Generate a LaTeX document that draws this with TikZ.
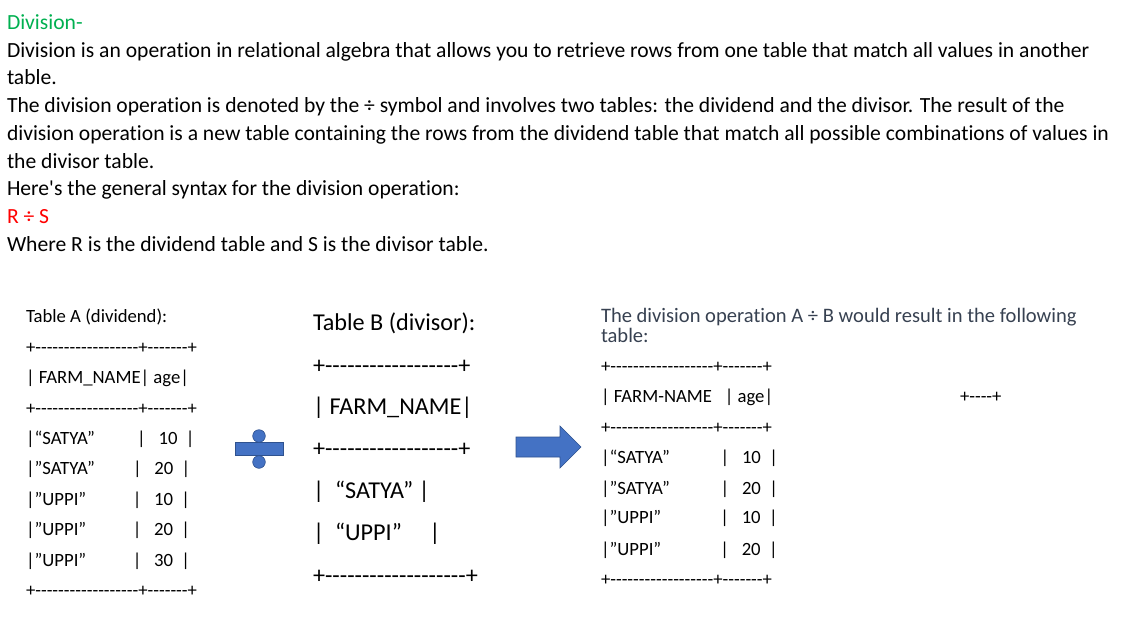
\documentclass[tikz,border=0pt]{standalone}
\usepackage{fontspec}
\setmainfont[Ligatures={TeXOff,NoCommon}]{Carlito}
\usetikzlibrary{positioning}
\definecolor{headColor}{RGB}{0,176,80}
\definecolor{syntaxColor}{RGB}{255,0,0}
\definecolor{slateColor}{RGB}{55,65,81}
\definecolor{shapeColor}{RGB}{68,114,196}
\definecolor{shapeEdge}{RGB}{47,82,143}
\tikzstyle{page} = [x = 1pt, y = -1pt]
\tikzstyle{lineText} = [anchor = base west, inner sep = 0, outer sep = 0, text = black]
\tikzstyle{bodyText} = [lineText, font=\fontsize{21.6}{25}\selectfont]
\tikzstyle{smallText} = [lineText, font=\fontsize{18.7}{22}\selectfont]
\tikzstyle{largeText} = [lineText, font=\fontsize{24.2}{28}\selectfont]
\tikzstyle{slateText} = [lineText, text = slateColor, font=\fontsize{20.56}{24}\selectfont]
\tikzstyle{blueShape} = [fill = shapeColor, draw = shapeEdge, line width = .6pt]
\newcommand{\textLine}[5]{\node [#1] (#2) at (#3, #4) {#5};}
\begin{document}
\begin{tikzpicture}[page]
  \useasboundingbox (0,0) rectangle (1143,640);

  \textLine{bodyText, text = headColor}{title}{7}{29}{Division-}
  \textLine{bodyText}{introOne}{7}{57}{Division is an operation in relational algebra that allows you to retrieve rows from one table that match all values in another}
  \textLine{bodyText}{introTwo}{7}{84}{table.}
  \textLine{bodyText}{introThree}{7}{112}{The division operation is denoted by the ÷ symbol and involves two tables: the dividend and the divisor. The result of the}
  \textLine{bodyText}{introFour}{7}{140}{division operation is a new table containing the rows from the dividend table that match all possible combinations of values in}
  \textLine{bodyText}{introFive}{7}{168}{the divisor table.}
  \textLine{bodyText}{introSix}{7}{195}{Here's the general syntax for the division operation:}
  \textLine{bodyText, text = syntaxColor}{syntax}{7}{223}{R ÷ S}
  \textLine{bodyText}{introSeven}{7}{251}{Where R is the dividend table and S is the divisor table.}

  % table A
  \textLine{smallText}{tableA}{26}{322}{Table A (dividend):}
  \textLine{smallText}{ruleAa}{26}{353}{+------------------+-------+}
  \textLine{smallText}{headA}{26}{383}{| FARM\_NAME| age|}
  \textLine{smallText}{ruleAb}{26}{414}{+------------------+-------+}
  \textLine{smallText}{rowAa}{26}{444}{|“SATYA”~~~~~~~~~~|~~~10~~|}
  \textLine{smallText}{rowAb}{26}{474}{|”SATYA”~~~~~~~~~|~~~20~~|}
  \textLine{smallText}{rowAc}{26}{505}{|”UPPI”~~~~~~~~~~~|~~~10~~|}
  \textLine{smallText}{rowAd}{26}{535}{|”UPPI”~~~~~~~~~~~|~~~20~~|}
  \textLine{smallText}{rowAe}{26}{566}{|”UPPI”~~~~~~~~~~~|~~~30~~|}
  \textLine{smallText}{ruleAc}{26}{596}{+------------------+-------+}

  % division sign
  \filldraw [blueShape] (235,442) rectangle (283,455);
  \filldraw [blueShape] (259,436) circle (6.3);
  \filldraw [blueShape] (259,462) circle (6.3);

  % table B
  \textLine{largeText}{tableB}{313}{330}{Table B (divisor):}
  \textLine{largeText}{ruleBa}{313}{373}{+------------------+}
  \textLine{largeText}{headB}{313}{414}{| FARM\_NAME|}
  \textLine{largeText}{ruleBb}{313}{456}{+------------------+}
  \textLine{largeText}{rowBa}{313}{498}{|~~“SATYA”~|}
  \textLine{largeText}{rowBb}{313}{540}{|~~“UPPI”~~~~~|}
  \textLine{largeText}{ruleBc}{313}{583}{+-------------------+}

  % arrow
  \filldraw [blueShape] (516,437) -- (560,437) -- (560,426) -- (581,447) -- (560,468) -- (560,457) -- (516,457) -- cycle;

  % result
  \textLine{slateText}{resultOne}{601}{322}{The division operation A ÷ B would result in the following}
  \textLine{slateText}{resultTwo}{601}{342}{table:}
  \textLine{smallText}{ruleCa}{601}{372}{+------------------+-------+}
  \textLine{smallText}{headC}{601}{402}{| FARM-NAME~~~| age|}
  \textLine{smallText}{ruleCb}{601}{433}{+------------------+-------+}
  \textLine{smallText}{rowCa}{601}{463}{|“SATYA”~~~~~~~~~~~~|~~~10~~|}
  \textLine{smallText}{rowCb}{601}{494}{|”SATYA”~~~~~~~~~~~~|~~~20~~|}
  \textLine{smallText}{rowCc}{601}{523}{|”UPPI”~~~~~~~~~~~~~~|~~~10~~|}
  \textLine{smallText}{rowCd}{601}{555}{|”UPPI”~~~~~~~~~~~~~~|~~~20~~|}
  \textLine{smallText}{ruleCc}{601}{585}{+------------------+-------+}
  \textLine{smallText}{ruleCd}{960}{402}{+----+}
\end{tikzpicture}
\end{document}
